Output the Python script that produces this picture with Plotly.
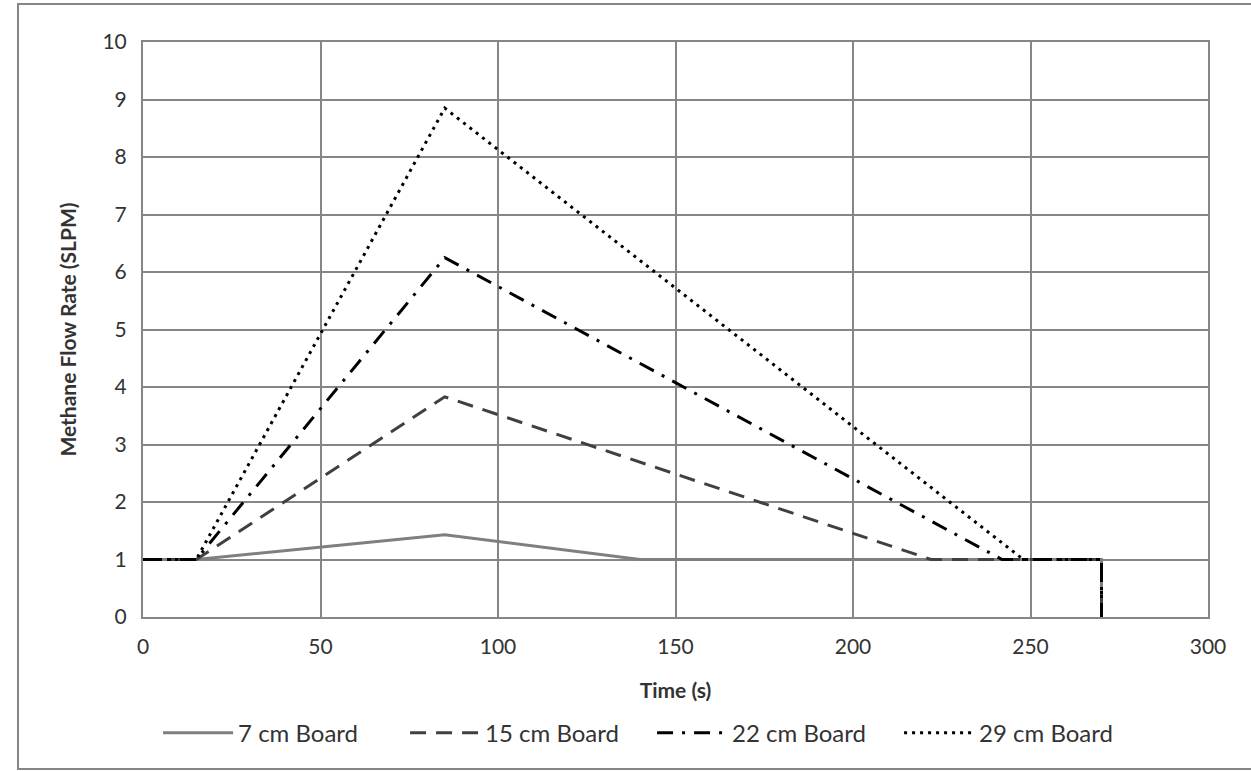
import plotly.graph_objects as go

time_7 = [0, 15, 85, 140, 270, 270]
flow_7 = [1, 1, 1.43, 1, 1, 0]
time_15 = [0, 15, 85, 222, 270, 270]
flow_15 = [1, 1, 3.83, 1, 1, 0]
time_22 = [0, 15, 85, 242, 270, 270]
flow_22 = [1, 1, 6.25, 1, 1, 0]
time_29 = [0, 15, 85, 248, 270, 270]
flow_29 = [1, 1, 8.85, 1, 1, 0]

FONT = "Lato, 'Open Sans', sans-serif"
TXT = "#333333"

fig = go.Figure()
fig.add_trace(go.Scatter(x=time_7, y=flow_7, mode="lines", name="7 cm Board",
                         line=dict(color="#7f7f7f", width=3)))
fig.add_trace(go.Scatter(x=time_15, y=flow_15, mode="lines", name="15 cm Board",
                         line=dict(color="#404040", width=3, dash="16px,10px")))
fig.add_trace(go.Scatter(x=time_22, y=flow_22, mode="lines", name="22 cm Board",
                         line=dict(color="#000000", width=3, dash="16px,9px,3px,9px")))
fig.add_trace(go.Scatter(x=time_29, y=flow_29, mode="lines", name="29 cm Board",
                         line=dict(color="#000000", width=3, dash="3px,5px")))

axis_common = dict(showgrid=True, gridcolor="#868686", gridwidth=2,
                   showline=True, linecolor="#868686", linewidth=2, mirror=True,
                   zeroline=False, ticks="", tickfont=dict(family=FONT, size=21, color=TXT))

fig.update_layout(
    width=1251, height=771,
    margin=dict(l=143, r=43, t=42, b=154, autoexpand=False),
    paper_bgcolor="white", plot_bgcolor="white",
    font=dict(family=FONT, color=TXT),
    xaxis=dict(range=[0, 300], dtick=50, **axis_common,
               title=dict(text="<b>Time (s)</b>", font=dict(family=FONT, size=21, color=TXT), standoff=26)),
    yaxis=dict(range=[0, 10], dtick=1, **axis_common,
               title=dict(text="<b>Methane Flow Rate (SLPM)</b>", font=dict(family=FONT, size=21, color=TXT), standoff=20)),
    legend=dict(orientation="h", x=0.478, xanchor="center", y=-0.163, yanchor="top",
                font=dict(family=FONT, size=24, color=TXT), bgcolor="rgba(0,0,0,0)",
                itemwidth=70, entrywidth=162, entrywidthmode="pixels"),
    showlegend=True,
)
fig.update_yaxes(ticklabelstandoff=10)
fig.update_xaxes(ticklabelstandoff=10)
fig.add_shape(type="rect", xref="paper", yref="paper",
              x0=(18 - 143) / 1065, x1=(1300 - 143) / 1065,
              y0=(617 - 769) / 575, y1=(617 - 4) / 575,
              line=dict(color="#868686", width=2), fillcolor="rgba(0,0,0,0)", layer="below")
fig.write_html("out.html", config={"displayModeBar": False},
               post_script="document.body.style.margin='0';")
